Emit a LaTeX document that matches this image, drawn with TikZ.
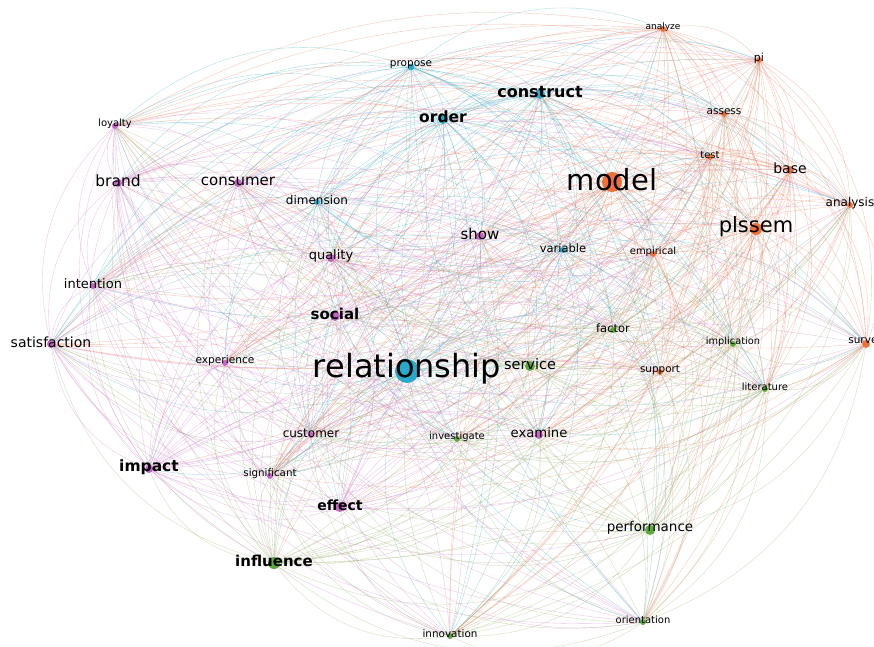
\documentclass[tikz,border=0pt]{standalone}
\usepackage{fontspec}
\setmainfont{DejaVu Sans}
\usetikzlibrary{backgrounds}
% cluster colours (dots) and lighter tones for the links
\definecolor{cB}{HTML}{1FA5C8}
\definecolor{cO}{HTML}{F06A2E}
\definecolor{cM}{HTML}{C25BC4}
\definecolor{cG}{HTML}{55A530}
\definecolor{eB}{HTML}{3AAFC4}
\definecolor{eO}{HTML}{EE7B5C}
\definecolor{eM}{HTML}{D07BC9}
\definecolor{eG}{HTML}{98AE68}
\tikzset{
  kwdot/.style={circle, inner sep=0pt, fill=c#1, fill opacity=0.95},
  kwlink/.style={draw=e#1, line width=0.35pt, draw opacity=0.45},
}
% keyword / x / y / cluster / dot radius / font size / weight
\def\kwlist{%
relationship/407/371/B/12/32/n,%
model/612/182/O/10/29/n,%
social/335/316/M/5/15/b,%
influence/274/563/G/6/15/b,%
order/443/119/B/5/15.5/b,%
plssem/756/229/O/6/21/n,%
impact/149/469/M/4/15.5/b,%
performance/650/530/G/5/13.5/n,%
construct/540/94/B/5/16/b,%
base/790/170/O/4/14/n,%
effect/340/507/M/5/14/b,%
service/530/366/G/5/14.5/n,%
propose/411/67/B/3.5/10.5/n,%
analyze/663/29/O/3/9/n,%
brand/118/183/M/4/15.5/n,%
factor/613/330/G/3/11.5/n,%
dimension/317/202/B/3/12/n,%
pi/759/60/O/3/11/n,%
consumer/238/183/M/4/15/n,%
implication/733/344/G/3/9.8/n,%
variable/563/250/B/3/11.5/n,%
assess/724/114/O/3/10.5/n,%
quality/331/258/M/4/13/n,%
literature/765/389/G/3/10/n,%
test/710/157/O/3/10/n,%
intention/93/286/M/3/13/n,%
investigate/457/439/G/3/10/n,%
analysis/850/205/O/3/12/n,%
satisfaction/51/344/M/4/14/n,%
innovation/450/636/G/3/10.4/n,%
empirical/653/254/O/3/10/n,%
experience/225/363/M/3/10.6/n,%
orientation/643/622/G/3/10/n,%
support/660/372/O/3/10.4/n,%
show/480/236/M/4/15/n,%
survey/866/344/O/4/10.5/n,%
customer/311/435/M/3/12/n,%
examine/539/435/M/4/13.2/n,%
loyalty/115/126/M/3/10/n,%
significant/270/476/M/3/10.3/n%
}
\begin{document}
\begin{tikzpicture}[x=1pt, y=-1pt]
\useasboundingbox (0,0) rectangle (874,646);
% keyword dots
\foreach \n/\x/\y/\c/\r/\f/\w in \kwlist {
  \node[kwdot=\c, minimum size={2*\r pt}] (\n) at (\x,\y) {};
}
% co-occurrence links: far ones bow outwards, central ones alternate,
% long links bend less than short ones
\begin{scope}[on background layer]
  \fill[white] (0,0) rectangle (874,646);
  \foreach \a/\xa/\ya/\ca/\ra/\fa/\wa [count=\i] in \kwlist {
    \foreach \b/\xb/\yb/\cb/\rb/\fb/\wb [count=\j] in \kwlist {
      \ifnum\j>\i
        \pgfmathsetmacro\kwkeep{mod(\i*7+\j*11,10)}
        \ifdim\kwkeep pt<9pt
          \pgfmathsetmacro\kwdist{veclen(((\xa+\xb)/2-437)/100,((\ya+\yb)/2-330)/100)}
          \pgfmathsetmacro\kwlen{veclen((\xb-\xa)/100,(\yb-\ya)/100)}
          \pgfmathsetmacro\kwbend{\kwlen>4.2 ? 20 : 30}
          \pgfmathsetmacro\kwside{((\yb-\ya)/100)*(((\xa+\xb)/2-437)/100)-((\xb-\xa)/100)*(((\ya+\yb)/2-330)/100)}
          \ifdim\kwdist pt<1.5pt
            \pgfmathsetmacro\kwside{mod(\i+\j,2)-0.5}
          \fi
          \ifdim\kwside pt>0pt
            \draw[kwlink=\ca] (\a) to[bend left=\kwbend] (\b);
          \else
            \draw[kwlink=\ca] (\a) to[bend right=\kwbend] (\b);
          \fi
        \fi
      \fi
    }
  }
\end{scope}
% keyword labels
\foreach \n/\x/\y/\c/\r/\f/\w in \kwlist {
  \node[inner sep=0pt, text=black,
        font={\fontsize{\f}{\f}\selectfont\if b\w\bfseries\fi}]
    (t-\n) at (\x,\y-2) {\n};
}
\end{tikzpicture}
\end{document}
